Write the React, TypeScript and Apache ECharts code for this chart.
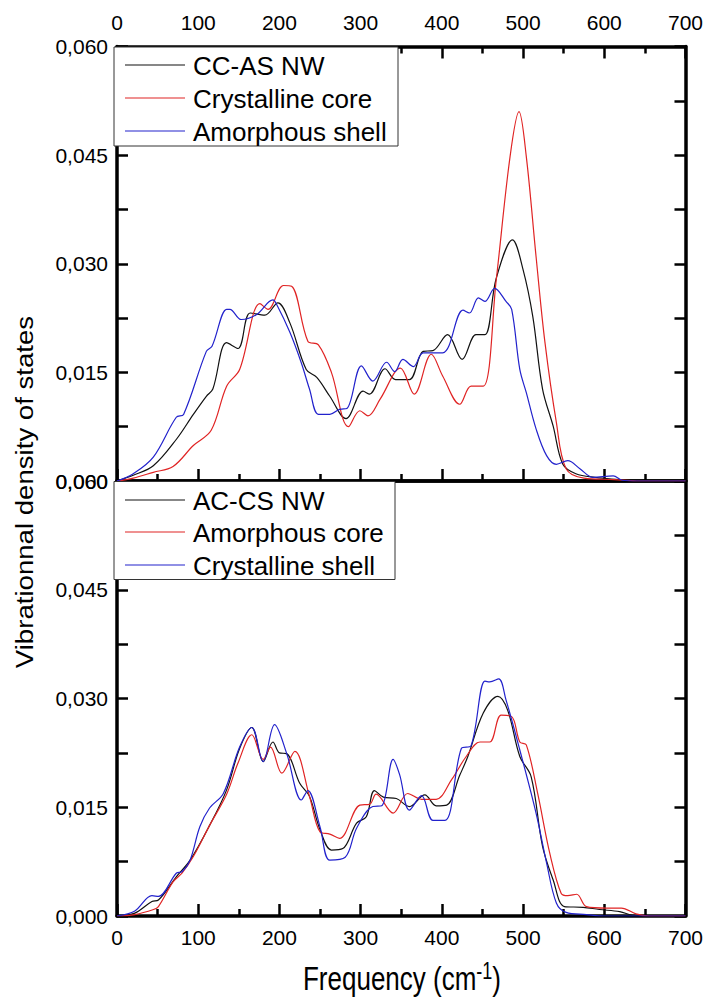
import React, { useEffect, useRef } from "react";
import * as echarts from "echarts";

// Frequency (cm-1) vs vibrational DOS
const topTotal: [number, number][] = [
  [0, 0], [20, 0.0008], [44.7, 0.0021], [73.4, 0.0058], [94, 0.0092], [110, 0.0117], [118, 0.0127],
  [135, 0.0191], [149, 0.0183], [164, 0.0232], [182, 0.0229], [198, 0.0246], [213, 0.0218],
  [233, 0.0154], [246, 0.0143], [262, 0.0117], [282, 0.0086], [303, 0.0124], [311, 0.012],
  [330, 0.0155], [343, 0.014], [360, 0.014], [377, 0.0179], [389, 0.018], [407, 0.0202],
  [425, 0.0168], [442, 0.0202], [453, 0.0202], [467, 0.028], [487, 0.0333], [500, 0.0292],
  [512, 0.0227], [524, 0.0127], [537, 0.0076], [549, 0.0023], [565, 0.001], [589, 0.0005],
  [618, 0.0002], [640, 0], [700, 0],
];
const topCore: [number, number][] = [
  [0, 0], [20, 0.0004], [44.7, 0.0012], [69, 0.002], [94, 0.0049], [116, 0.007], [135, 0.0131],
  [151, 0.0154], [176, 0.0245], [186, 0.0237], [205, 0.027], [215, 0.0269], [235, 0.0193],
  [248, 0.0188], [264, 0.015], [285, 0.0075], [299, 0.0097], [309, 0.009], [324, 0.0113],
  [349, 0.0156], [366, 0.012], [387, 0.0175], [401, 0.0145], [422, 0.0106], [436, 0.0131],
  [451, 0.0131], [467, 0.0278], [484, 0.0448], [495, 0.051], [504, 0.0448], [516, 0.031],
  [527, 0.0191], [541, 0.0081], [553, 0.0017], [575, 0.0004], [612, 0.0002], [640, 0], [700, 0],
];
const topShell: [number, number][] = [
  [0, 0], [20, 0.001], [44.7, 0.0033], [73, 0.0088], [82, 0.0092], [110, 0.0179], [117, 0.0186],
  [135, 0.0237], [139, 0.0237], [153, 0.0223], [172, 0.023], [192, 0.025], [196, 0.0245],
  [213, 0.0205], [227, 0.0163], [237, 0.0127], [248, 0.0092], [262, 0.0092], [274, 0.0099],
  [283, 0.01], [301, 0.0159], [315, 0.0138], [332, 0.0164], [342, 0.0151], [352, 0.0168],
  [365, 0.0158], [377, 0.0177], [401, 0.0177], [426, 0.0236], [434, 0.0232], [445, 0.0253],
  [453, 0.0248], [465, 0.0266], [479, 0.0248], [486, 0.0237], [496, 0.0154], [504, 0.0122],
  [516, 0.0072], [529, 0.0035], [541, 0.0023], [555, 0.0028], [570, 0.0017], [586, 0.0005],
  [611, 0.0007], [622, 0.0001], [640, 0], [700, 0],
];
const bottomTotal: [number, number][] = [
  [0, 0], [22, 0.0004], [43, 0.002], [51, 0.0022], [73, 0.0054], [90, 0.0077], [114, 0.0125],
  [135, 0.0174], [151, 0.0231], [166, 0.026], [180, 0.0213], [192, 0.024], [200, 0.0225],
  [209, 0.0224], [225, 0.0183], [237, 0.0165], [250, 0.0119], [264, 0.0091], [278, 0.0093],
  [295, 0.0128], [307, 0.0137], [317, 0.0173], [328, 0.0164], [344, 0.0162], [360, 0.0151],
  [379, 0.0167], [393, 0.0152], [406, 0.0153], [422, 0.0194], [432, 0.022], [451, 0.028],
  [469, 0.0303], [481, 0.0284], [496, 0.022], [510, 0.0192], [524, 0.0096], [537, 0.005],
  [551, 0.0013], [574, 0.0012], [594, 0.0009], [619, 0.0006], [635, 0.0001], [650, 0], [700, 0],
];
const bottomCore: [number, number][] = [
  [0, 0], [22, 0.0002], [45, 0.0009], [51, 0.0013], [69, 0.0047], [80, 0.0059], [94, 0.0082],
  [114, 0.0125], [135, 0.0168], [149, 0.0211], [166, 0.025], [180, 0.0216], [189, 0.0233],
  [203, 0.0197], [219, 0.0227], [237, 0.0165], [250, 0.0116], [262, 0.0113], [274, 0.0107],
  [299, 0.0153], [311, 0.0154], [319, 0.0168], [340, 0.0142], [358, 0.0169], [375, 0.0161],
  [393, 0.0161], [412, 0.0188], [430, 0.022], [447, 0.024], [459, 0.024], [473, 0.0277],
  [486, 0.0275], [496, 0.024], [504, 0.0236], [518, 0.0169], [533, 0.0086], [547, 0.0031],
  [555, 0.0028], [566, 0.003], [578, 0.0013], [603, 0.0011], [621, 0.0011], [639, 0.0003],
  [655, 0], [700, 0],
];
const bottomShell: [number, number][] = [
  [0, 0], [22, 0.0007], [43, 0.0028], [51, 0.0027], [73, 0.0059], [80, 0.0061], [90, 0.0077],
  [102, 0.0123], [114, 0.0149], [131, 0.0169], [151, 0.0233], [166, 0.026], [180, 0.0213],
  [194, 0.0264], [209, 0.0224], [227, 0.016], [235, 0.0173], [250, 0.0123], [262, 0.0077],
  [281, 0.0081], [295, 0.0121], [315, 0.0151], [326, 0.0152], [340, 0.0216], [348, 0.0195],
  [360, 0.0146], [375, 0.0166], [389, 0.0132], [404, 0.0132], [424, 0.0231], [436, 0.0235],
  [453, 0.0324], [459, 0.0323], [470, 0.0327], [479, 0.0298], [496, 0.0229], [516, 0.0142],
  [529, 0.0073], [541, 0.0018], [553, 0.0005], [578, 0.0002], [600, 0], [700, 0],
];

const topNames = ["CC-AS NW", "Crystalline core", "Amorphous shell"];
const bottomNames = ["AC-CS NW", "Amorphous core", "Crystalline shell"];
const colors = ["#111111", "#e02424", "#2222cc"];

const FONT = "Liberation Sans, Arial, sans-serif";

export default function App() {
  const ref = useRef<HTMLDivElement>(null);
  useEffect(() => {
    if (!ref.current) return;
    const chart = echarts.init(ref.current, undefined, { renderer: "svg" });
    const axisLine = { show: true, onZero: false, lineStyle: { color: "#000", width: 3.5 } };
    const xTick = { show: true, inside: true, length: 12, lineStyle: { color: "#000", width: 2.5 } };
    const xMinor = { show: true, splitNumber: 2, length: 7, lineStyle: { color: "#000", width: 2.5 } };
    const yTick = { show: true, inside: true, length: 11, lineStyle: { color: "#000", width: 2.5 } };
    const yMinor = { show: true, splitNumber: 2, length: 11, lineStyle: { color: "#000", width: 2.5 } };
    const xLabelTop = { show: true, fontSize: 21, color: "#000", fontFamily: FONT, margin: 14 };
    const xLabelBottom = { show: true, fontSize: 21, color: "#000", fontFamily: FONT, margin: 11 };
    const yLabel = {
      show: true, fontSize: 21, color: "#000", fontFamily: FONT, margin: 9,
      formatter: (v: number) => v.toFixed(3).replace(".", ","),
    };
    const xBase = { type: "value", min: 0, max: 700, interval: 100, splitLine: { show: false }, axisLine };
    const yBase = { type: "value", min: 0, max: 0.06, interval: 0.015, splitLine: { show: false }, axisLine };

    const mk = (name: string, data: [number, number][], color: string, xi: number, yi: number) => ({
      type: "line", name, data, xAxisIndex: xi, yAxisIndex: yi, showSymbol: false, smooth: 0.35,
      lineStyle: { color, width: 1.2 }, itemStyle: { color }, z: 3,
    });

    const legendBox = (x: number, y: number, w: number, h: number, names: string[], rows: number[]) => [
      { type: "rect", z: 100, shape: { x, y, width: w, height: h }, style: { fill: "#fff", stroke: "#333", lineWidth: 1 } },
      ...names.map((n, i) => ({
        type: "line", z: 101, shape: { x1: 125, y1: rows[i], x2: 185, y2: rows[i] },
        style: { stroke: colors[i], lineWidth: 1.2 },
      })),
      ...names.map((n, i) => ({
        type: "text", z: 101, x: 193, y: rows[i] + 1,
        style: { text: n, font: `26px ${FONT}`, fill: "#000", align: "left", verticalAlign: "middle" },
      })),
    ];

    chart.setOption({
      animation: false,
      backgroundColor: "#fff",
      grid: [
        { left: 117, top: 46.5, width: 569, height: 434.5 },
        { left: 117, top: 481, width: 569, height: 435 },
      ],
      xAxis: [
        { ...xBase, gridIndex: 0, position: "bottom", axisTick: xTick, minorTick: xMinor, axisLabel: { show: false } },
        { ...xBase, gridIndex: 0, position: "top", axisTick: xTick, minorTick: xMinor, axisLabel: xLabelTop },
        { ...xBase, gridIndex: 1, position: "bottom", axisTick: xTick, minorTick: xMinor, axisLabel: xLabelBottom },
        { ...xBase, gridIndex: 1, position: "top", axisTick: { show: false }, axisLabel: { show: false } },
      ],
      yAxis: [
        { ...yBase, gridIndex: 0, position: "left", axisTick: yTick, minorTick: yMinor, axisLabel: yLabel },
        { ...yBase, gridIndex: 0, position: "right", axisTick: yTick, minorTick: yMinor, axisLabel: { show: false } },
        { ...yBase, gridIndex: 1, position: "left", axisTick: yTick, minorTick: yMinor, axisLabel: yLabel },
        { ...yBase, gridIndex: 1, position: "right", axisTick: yTick, minorTick: yMinor, axisLabel: { show: false } },
      ],
      series: [
        mk(topNames[0], topTotal, colors[0], 0, 0),
        mk(topNames[1], topCore, colors[1], 0, 0),
        mk(topNames[2], topShell, colors[2], 0, 0),
        mk(bottomNames[0], bottomTotal, colors[0], 2, 2),
        mk(bottomNames[1], bottomCore, colors[1], 2, 2),
        mk(bottomNames[2], bottomShell, colors[2], 2, 2),
      ],
      graphic: [
        ...legendBox(114, 47, 284, 99, topNames, [65, 98, 131]),
        ...legendBox(114, 481.5, 281, 98, bottomNames, [500, 532, 565]),
        {
          type: "text", z: 50, x: 25, y: 492, rotation: Math.PI / 2, scaleX: 1.15,
          style: { text: "Vibrationnal density of states", font: `24px ${FONT}`, fill: "#000", align: "center", verticalAlign: "middle" },
        },
        {
          type: "text", z: 50, x: 402, y: 978, scaleY: 1.28,
          style: {
            text: "{a|Frequency (cm}{s|-1}{a|)}", fill: "#000", align: "center", verticalAlign: "middle",
            rich: {
              a: { fontSize: 26, fontFamily: FONT, fill: "#000", lineHeight: 30 },
              s: { fontSize: 18, fontFamily: FONT, fill: "#000", verticalAlign: "top", lineHeight: 18 },
            },
          },
        },
      ],
    });
    return () => chart.dispose();
  }, []);
  return <div ref={ref} style={{ position: "fixed", left: 0, top: 0, width: 706, height: 1003 }} />;
}
